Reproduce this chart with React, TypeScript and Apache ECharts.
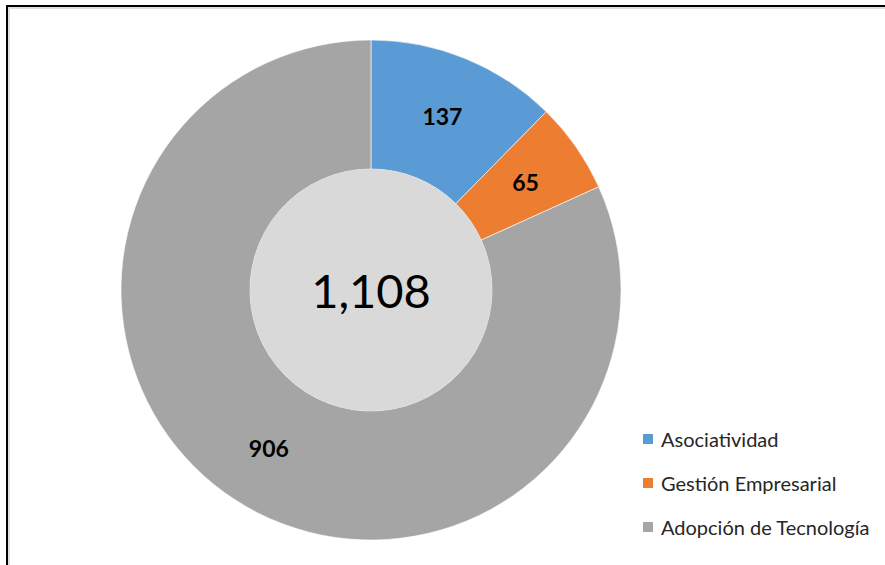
import React, { useEffect, useRef } from "react";
import * as echarts from "echarts";

const categories = ["Asociatividad", "Gestión Empresarial", "Adopción de Tecnología"];
const values = [137, 65, 906];
const colors = ["#5b9bd5", "#ed7d31", "#a5a5a5"];

export default function App() {
  const ref = useRef<HTMLDivElement>(null);
  useEffect(() => {
    if (!ref.current) return;
    const chart = echarts.init(ref.current, null, { renderer: "svg" });
    const total = values.reduce((a, b) => a + b, 0);
    chart.setOption({
      animation: false,
      backgroundColor: "#ffffff",
      graphic: [
        {
          type: "rect",
          shape: { x: 9, y: 8, width: 900, height: 600 },
          style: { fill: "none", stroke: "#e0e0e0", lineWidth: 2 },
          silent: true,
        },
        {
          type: "rect",
          shape: { x: 7, y: 6, width: 900, height: 600 },
          style: { fill: "none", stroke: "#000000", lineWidth: 2 },
          silent: true,
        },
      ],
      legend: {
        orient: "vertical",
        left: 641,
        top: 429,
        padding: 0,
        itemWidth: 12,
        itemHeight: 12,
        itemGap: 24,
        icon: "rect",
        data: categories,
        textStyle: { fontFamily: "Lato", fontSize: 20, color: "#262626", padding: [0, 0, 0, 2] },
      },
      series: [
        {
          type: "pie",
          center: [371, 290],
          radius: [121, 250],
          startAngle: 90,
          clockwise: true,
          silent: true,
          data: categories.map((name, i) => ({
            name,
            value: values[i],
            itemStyle: { color: colors[i] },
          })),
          itemStyle: { borderColor: "#ffffff", borderWidth: 0.6 },
          label: {
            show: true,
            position: "inside",
            formatter: "{c}",
            fontFamily: "Lato",
            fontWeight: "bold",
            fontSize: 23,
            color: "#000000",
          },
          labelLine: { show: false },
        },
        {
          type: "pie",
          center: [371, 290],
          radius: [0, 121],
          silent: true,
          data: [{ name: "Total", value: total, itemStyle: { color: "#d9d9d9" } }],
          label: {
            show: true,
            position: "center",
            formatter: () => total.toLocaleString("en-US"),
            fontFamily: "Lato",
            fontSize: 47,
            color: "#000000",
          },
          labelLine: { show: false },
        },
      ],
    });
    return () => chart.dispose();
  }, []);
  return (
    <div
      ref={ref}
      style={{ position: "fixed", left: 0, top: 0, width: 885, height: 565 }}
    />
  );
}
